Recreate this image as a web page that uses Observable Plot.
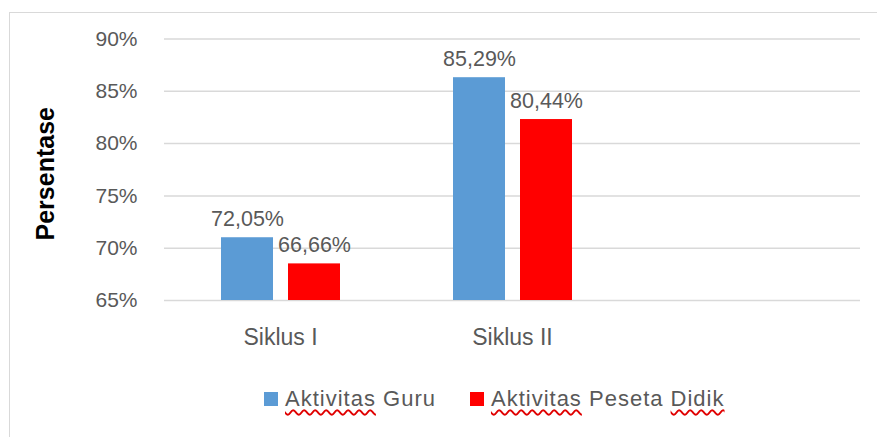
<!DOCTYPE html>
<html>
<head>
<meta charset="utf-8">
<script src="https://cdn.jsdelivr.net/npm/d3@7"></script>
<script src="https://cdn.jsdelivr.net/npm/@observablehq/plot@0.6"></script>
<style>
  html, body { margin: 0; padding: 0; background: #fff; }
  body { width: 877px; height: 437px; position: relative; overflow: hidden; font-family: "Liberation Sans", Arial, sans-serif; }
  #frame { position: absolute; left: 9px; top: 12px; width: 1000px; height: 1000px; border-top: 1.5px solid #d9d9d9; border-left: 1.5px solid #d9d9d9; }
  #chart { position: absolute; left: 0; top: 0; }
  #legend { position: absolute; left: 264px; top: 386px; display: flex; align-items: center; gap: 34px; font-size: 22px; color: #595959; letter-spacing: 1px; }
  .item { display: flex; align-items: center; gap: 7px; }
  .sw { width: 14px; height: 14px; display: inline-block; }
  .sp { text-decoration: underline wavy #e00000; text-decoration-thickness: 1.5px; text-underline-offset: 3px; text-decoration-skip-ink: none; }
</style>
</head>
<body>
<div id="frame"></div>
<div id="chart"></div>
<div id="legend"></div>
<script>
const categories = ["Siklus I", "Siklus II", " "];
const series = ["Aktivitas Guru", "Aktivitas Peseta Didik"];
const colors = ["#5b9bd5", "#ff0000"];
const guruValues = [71.0, 86.3];
const didikValues = [68.5, 82.3];
const guruLabels = ["72,05%", "85,29%"];
const didikLabels = ["66,66%", "80,44%"];
const yTicks = [65, 70, 75, 80, 85, 90];

const data = [];
[guruValues, didikValues].forEach((vals, si) => {
  vals.forEach((v, ci) => {
    data.push({
      cat: categories[ci],
      series: series[si],
      value: v,
      label: (si === 0 ? guruLabels : didikLabels)[ci]
    });
  });
});

// gridlines in every category panel (including the empty third one)
const gridData = categories.flatMap(cat => yTicks.map(t => ({ cat, tick: t })));

const chart = Plot.plot({
  width: 877,
  height: 362,
  marginTop: 38.5,
  marginBottom: 62,
  marginLeft: 163,
  marginRight: 17,
  style: { fontFamily: "'Liberation Sans', Arial, sans-serif", background: "transparent" },
  fx: { domain: categories, padding: 0, label: null },
  x: { domain: series, paddingInner: 0.224, paddingOuter: 0.843, axis: null },
  y: { domain: [65, 90], ticks: yTicks, label: null },
  color: { domain: series, range: colors },
  marks: [
    Plot.ruleY(gridData, { fx: "cat", y: "tick", stroke: "#d9d9d9", strokeWidth: 1.5 }),
    Plot.axisY(yTicks, { tickSize: 0, tickPadding: 27, tickFormat: d => d + "%", fontSize: 21, fill: "#595959", label: null }),
    Plot.axisFx({ anchor: "bottom", tickSize: 0, tickPadding: 28, fontSize: 23, fill: "#595959", label: null }),
    Plot.barY(data, { fx: "cat", x: "series", y1: 65, y2: "value", fill: "series" }),
    Plot.text(data, { fx: "cat", x: "series", y: "value", text: "label", lineAnchor: "bottom", dy: -12, fontSize: 21.5, fill: "#595959" }),
    Plot.text(["Persentase"], { text: d => d, frameAnchor: "left", textAnchor: "middle", dx: -119, dy: 4, rotate: -90, fontSize: 25, fontWeight: "bold", fill: "#000", facet: "super" })
  ]
});
document.getElementById("chart").appendChild(chart);

const legend = document.getElementById("legend");
const legendParts = [
  [["Aktivitas", true], [" Guru", false]],
  [["Aktivitas", true], [" Peseta ", false], ["Didik", true]]
];
series.forEach((s, i) => {
  const item = document.createElement("div");
  item.className = "item";
  const sw = document.createElement("span");
  sw.className = "sw";
  sw.style.background = colors[i];
  item.appendChild(sw);
  const t = document.createElement("span");
  legendParts[i].forEach(([txt, spell]) => {
    const p = document.createElement("span");
    p.textContent = txt;
    if (spell) p.className = "sp";
    t.appendChild(p);
  });
  t.style.whiteSpace = "pre";
  item.appendChild(t);
  legend.appendChild(item);
});
</script>
</body>
</html>
